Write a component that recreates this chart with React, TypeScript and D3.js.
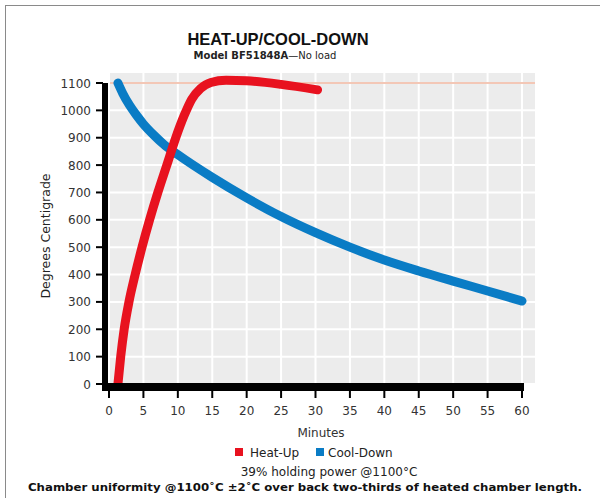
import React from "react";
import * as d3 from "d3";

const heatMinutes = [1.3, 1.7, 2.2, 2.9, 3.8, 4.8, 5.9, 7.1, 8.4, 9.7, 10.9, 12.0, 13.3, 14.8, 17, 20, 25, 30.3];
const heatTemps = [0, 100, 200, 300, 400, 500, 600, 700, 800, 900, 980, 1040, 1080, 1102, 1110, 1108, 1095, 1075];

const coolMinutes = [1.3, 2, 3, 4, 5, 6.5, 8, 10, 15, 20, 25, 30, 35, 40, 45, 50, 55, 60];
const coolTemps = [1100, 1062, 1018, 982, 950, 910, 875, 838, 755, 680, 612, 553, 500, 453, 413, 376, 340, 303];

const xTicks = [0, 5, 10, 15, 20, 25, 30, 35, 40, 45, 50, 55, 60];
const yTicks = [0, 100, 200, 300, 400, 500, 600, 700, 800, 900, 1000, 1100];
const gridY = [0, 100, 200, 300, 400, 500, 600, 700, 800, 900, 1000, 1100];
const limitTemp = 1100;

const FONT = "'DejaVu Sans', sans-serif";

export default function App() {
  const x = d3.scaleLinear().domain([0, 60]).range([109, 522]);
  const y = d3.scaleLinear().domain([0, 1100]).range([384, 83]);

  const line = d3
    .line<[number, number]>()
    .x((d) => x(d[0]))
    .y((d) => y(d[1]))
    .curve(d3.curveMonotoneX);

  const heat: [number, number][] = heatMinutes.map((m, i) => [m, heatTemps[i]]);
  const cool: [number, number][] = coolMinutes.map((m, i) => [m, coolTemps[i]]);

  const panelLeft = 110;
  const panelRight = 535;
  const panelTop = 73;
  const panelBottom = 384;

  return (
    <svg
      width={600}
      height={498}
      style={{ position: "absolute", left: 0, top: 0, background: "#fff" }}
      fontFamily={FONT}
    >
      <rect x={0} y={0} width={600} height={498} fill="#fff" />
      <rect x={5.5} y={5.5} width={640} height={540} fill="none" stroke="#8a8a8a" strokeWidth={1} />

      {/* title */}
      <text x={278} y={45} textAnchor="middle" fontFamily="'Liberation Sans', Arial, sans-serif" fontWeight="bold" fontSize={16.5} fill="#111">
        HEAT-UP/COOL-DOWN
      </text>
      <text x={265} y={59} textAnchor="middle" fontSize={10} fill="#222">
        <tspan fontWeight="bold">Model BF51848A</tspan>
        <tspan>—No load</tspan>
      </text>

      {/* panel */}
      <rect x={panelLeft} y={panelTop} width={panelRight - panelLeft} height={panelBottom - panelTop} fill="#ececec" />
      {gridY.map((v) => (
        <line key={"gy" + v} x1={panelLeft} x2={panelRight} y1={y(v)} y2={y(v)} stroke="#fff" strokeWidth={2} />
      ))}
      {xTicks.map((v) => (
        <line key={"gx" + v} x1={x(v)} x2={x(v)} y1={panelTop} y2={panelBottom} stroke="#fff" strokeWidth={2} />
      ))}
      <line x1={panelLeft} x2={panelRight} y1={y(limitTemp)} y2={y(limitTemp)} stroke="#e8906e" strokeWidth={1.2} />

      {/* curves */}
      <path d={line(cool) || ""} fill="none" stroke="#0a7cc5" strokeWidth={9} strokeLinecap="round" strokeLinejoin="round" />
      <path d={line(heat) || ""} fill="none" stroke="#e8121f" strokeWidth={9} strokeLinecap="round" strokeLinejoin="round" />

      {/* axes */}
      <rect x={102} y={y(1100)} width={6} height={391 - y(1100)} fill="#000" />
      <rect x={102} y={383} width={422} height={8} fill="#000" />
      {yTicks.map((v) => (
        <g key={"yt" + v}>
          <line x1={96} x2={103} y1={y(v)} y2={y(v)} stroke="#000" strokeWidth={2} />
          <text x={91} y={y(v) + 4.5} textAnchor="end" fontSize={12} fill="#333">
            {v}
          </text>
        </g>
      ))}
      {xTicks.map((v) => (
        <g key={"xt" + v}>
          <line x1={x(v)} x2={x(v)} y1={390} y2={398} stroke="#000" strokeWidth={2} />
          <text x={x(v)} y={415} textAnchor="middle" fontSize={12} fill="#333">
            {v}
          </text>
        </g>
      ))}

      <text transform="translate(50,236) rotate(-90)" textAnchor="middle" fontSize={12.5} fill="#222">
        Degrees Centigrade
      </text>
      <text x={321} y={437} textAnchor="middle" fontSize={12} fill="#333">
        Minutes
      </text>

      {/* legend */}
      <rect x={235} y={448} width={8} height={8} fill="#e8121f" />
      <text x={250} y={457} fontSize={12} fill="#222">Heat-Up</text>
      <rect x={316} y={448} width={8} height={8} fill="#0a7cc5" />
      <text x={328} y={457} fontSize={12} fill="#222">Cool-Down</text>

      <text x={329} y={476} textAnchor="middle" fontSize={12} fill="#222">
        39% holding power @1100°C
      </text>
      <text x={305} y={491} textAnchor="middle" fontSize={11} fontWeight="bold" fill="#111" textLength={554} lengthAdjust="spacingAndGlyphs">
        Chamber uniformity @1100˚C ±2˚C over back two-thirds of heated chamber length.
      </text>
    </svg>
  );
}
